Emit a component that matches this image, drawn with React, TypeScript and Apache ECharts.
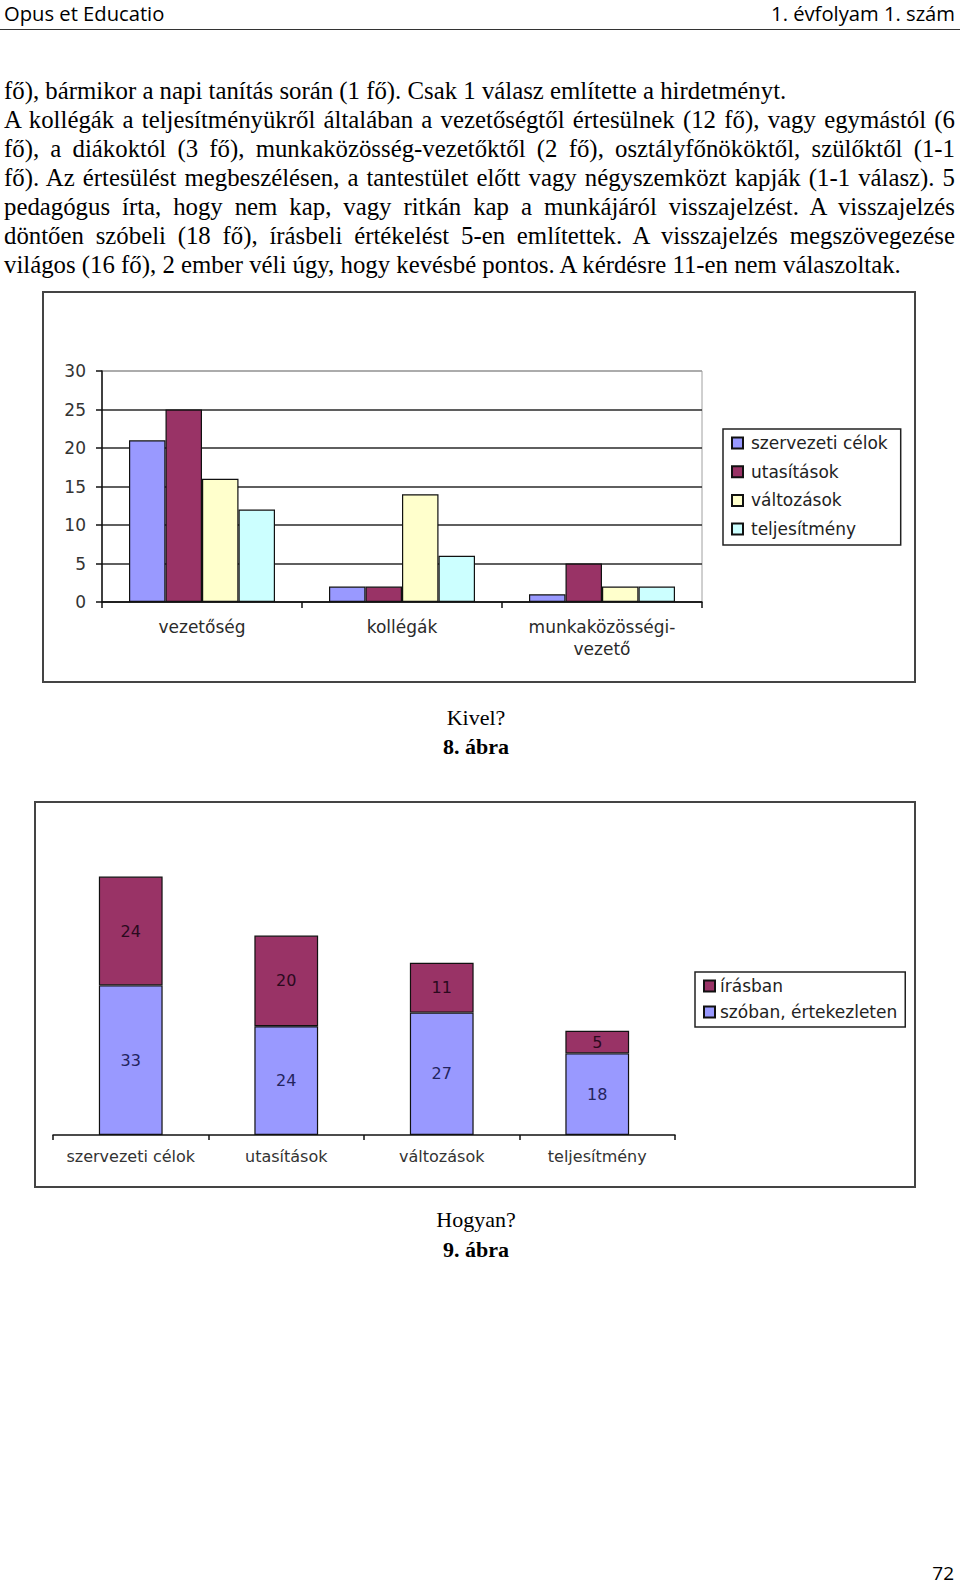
import React, { useEffect, useRef } from "react";
import * as echarts from "echarts";

// ---- Figure 8 data ("Kivel?") ----
const categories1 = ["vezetőség", "kollégák", "munkaközösségi-vezető"];
const seriesNames1 = ["szervezeti célok", "utasítások", "változások", "teljesítmény"];
const szervezetiCelok1 = [21, 2, 1];
const utasitasok1 = [25, 2, 5];
const valtozasok1 = [16, 14, 2];
const teljesitmeny1 = [12, 6, 2];
const colors1 = ["#9999FF", "#993366", "#FFFFCC", "#CCFFFF"];
const yMin1 = 0;
const yMax1 = 30;
const yStep1 = 5;

// ---- Figure 9 data ("Hogyan?") ----
const categories2 = ["szervezeti célok", "utasítások", "változások", "teljesítmény"];
const szobanErtekezleten = [33, 24, 27, 18];
const irasban = [24, 20, 11, 5];
const legend2 = ["írásban", "szóban, értekezleten"];

// ---- Page text ----
const headerLeft = "Opus et Educatio";
const headerRight = "1. évfolyam 1. szám";
const bodyLines = [
  "fő), bármikor a napi tanítás során (1 fő). Csak 1 válasz említette a hirdetményt.",
  "A kollégák a teljesítményükről általában a vezetőségtől értesülnek (12 fő), vagy egymástól (6",
  "fő), a diákoktól (3 fő), munkaközösség-vezetőktől (2 fő), osztályfőnököktől, szülőktől (1-1",
  "fő). Az értesülést megbeszélésen, a tantestület előtt vagy négyszemközt kapják (1-1 válasz). 5",
  "pedagógus írta, hogy nem kap, vagy ritkán kap a munkájáról visszajelzést. A visszajelzés",
  "döntően szóbeli (18 fő), írásbeli értékelést 5-en említettek. A visszajelzés megszövegezése",
  "világos (16 fő), 2 ember véli úgy, hogy kevésbé pontos. A kérdésre 11-en nem válaszoltak.",
];
const justified = [false, true, true, true, true, true, false];
const caption1 = "Kivel?";
const figLabel1 = "8. ábra";
const caption2 = "Hogyan?";
const figLabel2 = "9. ábra";
const pageNumber = "72";

const SERIF = "'Liberation Serif', 'Times New Roman', serif";
const SANS = "'Open Sans', 'Noto Sans', sans-serif";
const CHART_FONT = "'DejaVu Sans', sans-serif";

// top for a serif line whose baseline is at `baseline`
function serifTop(baseline: number, fs: number, lh: number) {
  return baseline - ((lh - 1.107 * fs) / 2 + 0.891 * fs);
}
// top for an Open Sans line whose baseline is at `baseline`
function sansTop(baseline: number, fs: number, lh: number) {
  return baseline - ((lh - 1.362 * fs) / 2 + 1.069 * fs);
}

function buildOption1() {
  const data = [szervezetiCelok1, utasitasok1, valtozasok1, teljesitmeny1];
  const splitColors: string[] = [];
  for (let v = yMin1; v <= yMax1; v += yStep1) splitColors.push(v === yMax1 ? "#a0a0a0" : "#2a2a2a");
  return {
    animation: false,
    textStyle: { fontFamily: CHART_FONT },
    graphic: [
      {
        type: "rect",
        silent: true,
        shape: { x: 43, y: 12, width: 872, height: 390 },
        style: { fill: "none", stroke: "#444", lineWidth: 2 },
      },
    ],
    grid: {
      left: 102,
      right: 258,
      top: 91,
      bottom: 88,
      show: true,
      borderColor: "#a0a0a0",
      borderWidth: 1,
      backgroundColor: "transparent",
    },
    legend: {
      orient: "vertical",
      left: 723,
      top: 149,
      padding: [4, 13, 6, 8],
      itemWidth: 11,
      itemHeight: 11,
      itemGap: 8.7,
      icon: "rect",
      borderColor: "#222",
      borderWidth: 1.5,
      data: seriesNames1,
      textStyle: {
        fontFamily: CHART_FONT,
        fontSize: 17,
        color: "#222",
        lineHeight: 20,
        padding: [0, 0, 0, 3],
      },
    },
    xAxis: {
      type: "category",
      data: categories1,
      axisLine: { lineStyle: { color: "#111", width: 1.5 } },
      axisTick: { show: true, length: 6, lineStyle: { color: "#111", width: 1.5 } },
      axisLabel: {
        interval: 0,
        margin: 14,
        fontSize: 17,
        color: "#2a2a2a",
        lineHeight: 22,
        fontFamily: CHART_FONT,
        formatter: (v: string) => v.replace("-", "-\n"),
      },
    },
    yAxis: {
      type: "value",
      min: yMin1,
      max: yMax1,
      interval: yStep1,
      axisLine: { show: true, lineStyle: { color: "#111", width: 1.5 } },
      axisTick: { show: true, length: 6, lineStyle: { color: "#111", width: 1.5 } },
      axisLabel: { margin: 16, fontSize: 17, color: "#333", fontFamily: CHART_FONT },
      splitLine: { show: true, lineStyle: { color: splitColors, width: 1.5 } },
    },
    series: seriesNames1.map((name, i) => ({
      name,
      type: "bar",
      data: data[i],
      barGap: "0%",
      barCategoryGap: "27%",
      itemStyle: { color: colors1[i], borderColor: "#111", borderWidth: 1.2 },
    })),
  };
}

function buildOption2() {
  return {
    animation: false,
    textStyle: { fontFamily: CHART_FONT },
    graphic: [
      {
        type: "rect",
        silent: true,
        shape: { x: 35, y: 12, width: 880, height: 385 },
        style: { fill: "none", stroke: "#444", lineWidth: 2 },
      },
    ],
    grid: { left: 53, right: 285, top: 73, bottom: 65 },
    legend: {
      orient: "vertical",
      left: 695,
      top: 182,
      padding: [5, 8, 6, 8],
      itemWidth: 11,
      itemHeight: 11,
      itemGap: 8,
      icon: "rect",
      borderColor: "#222",
      borderWidth: 1.5,
      data: legend2,
      textStyle: { fontFamily: CHART_FONT, fontSize: 17, color: "#222", lineHeight: 18 },
    },
    xAxis: {
      type: "category",
      data: categories2,
      axisLine: { lineStyle: { color: "#111", width: 1.5 } },
      axisTick: { show: true, length: 5, lineStyle: { color: "#111", width: 1.5 } },
      axisLabel: { interval: 0, margin: 13, fontSize: 16, color: "#333", fontFamily: CHART_FONT },
    },
    yAxis: { type: "value", min: 0, max: 60, show: false, splitLine: { show: false } },
    series: [
      {
        name: "szóban, értekezleten",
        type: "bar",
        stack: "total",
        data: szobanErtekezleten,
        barCategoryGap: "59%",
        itemStyle: { color: "#9999FF", borderColor: "#111", borderWidth: 1.2 },
        label: { show: true, position: "inside", fontSize: 16, color: "#24245e", fontFamily: CHART_FONT },
      },
      {
        name: "írásban",
        type: "bar",
        stack: "total",
        data: irasban,
        barCategoryGap: "59%",
        itemStyle: { color: "#993366", borderColor: "#111", borderWidth: 1.2 },
        label: { show: true, position: "inside", fontSize: 16, color: "#2a0a1e", fontFamily: CHART_FONT },
      },
    ],
  };
}

export default function App() {
  const ref1 = useRef<HTMLDivElement>(null);
  const ref2 = useRef<HTMLDivElement>(null);

  useEffect(() => {
    const c1 = echarts.init(ref1.current!, undefined, { renderer: "svg" });
    c1.setOption(buildOption1() as any);
    const c2 = echarts.init(ref2.current!, undefined, { renderer: "svg" });
    c2.setOption(buildOption2() as any);
    return () => {
      c1.dispose();
      c2.dispose();
    };
  }, []);

  const bodyFs = 24.8;
  const bodyLh = 29.1;
  const capFs = 22;
  const capLh = 26;
  const headFs = 20.2;
  const headLh = 22;

  return (
    <div
      style={{
        position: "absolute",
        left: 0,
        top: 0,
        width: 960,
        height: 1585,
        overflow: "hidden",
        background: "#fff",
        color: "#000",
      }}
    >
      {/* header */}
      <div
        style={{
          position: "absolute",
          left: 4,
          top: sansTop(20.5, headFs, headLh),
          fontFamily: SANS,
          fontSize: headFs,
          lineHeight: `${headLh}px`,
          whiteSpace: "nowrap",
        }}
      >
        {headerLeft}
      </div>
      <div
        style={{
          position: "absolute",
          right: 5,
          top: sansTop(20.5, headFs, headLh),
          fontFamily: SANS,
          fontSize: headFs,
          lineHeight: `${headLh}px`,
          whiteSpace: "nowrap",
        }}
      >
        {headerRight}
      </div>
      <div
        style={{
          position: "absolute",
          left: 0,
          top: 28.5,
          width: 960,
          height: 0,
          borderTop: "1.5px solid #333",
        }}
      />

      {/* body text */}
      {bodyLines.map((line, i) => (
        <div
          key={i}
          style={{
            position: "absolute",
            left: 4,
            top: serifTop(98.5 + i * bodyLh, bodyFs, bodyLh),
            width: justified[i] ? 951 : undefined,
            fontFamily: SERIF,
            fontSize: bodyFs,
            lineHeight: `${bodyLh}px`,
            whiteSpace: "nowrap",
            textAlign: justified[i] ? "justify" : "left",
            textAlignLast: justified[i] ? "justify" : "left",
          }}
        >
          {line}
        </div>
      ))}

      {/* figure 8 */}
      <div
        ref={ref1}
        style={{ position: "absolute", left: 0, top: 280, width: 960, height: 410 }}
      />
      <div
        style={{
          position: "absolute",
          left: 0,
          width: 952,
          top: serifTop(725, capFs, capLh),
          textAlign: "center",
          fontFamily: SERIF,
          fontSize: capFs,
          lineHeight: `${capLh}px`,
        }}
      >
        {caption1}
      </div>
      <div
        style={{
          position: "absolute",
          left: 0,
          width: 952,
          top: serifTop(754, capFs, capLh),
          textAlign: "center",
          fontFamily: SERIF,
          fontSize: capFs,
          fontWeight: "bold",
          lineHeight: `${capLh}px`,
        }}
      >
        {figLabel1}
      </div>

      {/* figure 9 */}
      <div
        ref={ref2}
        style={{ position: "absolute", left: 0, top: 790, width: 960, height: 410 }}
      />
      <div
        style={{
          position: "absolute",
          left: 0,
          width: 952,
          top: serifTop(1227, capFs, capLh),
          textAlign: "center",
          fontFamily: SERIF,
          fontSize: capFs,
          lineHeight: `${capLh}px`,
        }}
      >
        {caption2}
      </div>
      <div
        style={{
          position: "absolute",
          left: 0,
          width: 952,
          top: serifTop(1257, capFs, capLh),
          textAlign: "center",
          fontFamily: SERIF,
          fontSize: capFs,
          fontWeight: "bold",
          lineHeight: `${capLh}px`,
        }}
      >
        {figLabel2}
      </div>

      {/* page number */}
      <div
        style={{
          position: "absolute",
          right: 6,
          top: sansTop(1580, 19, 22),
          fontFamily: SANS,
          fontSize: 19,
          lineHeight: "22px",
          whiteSpace: "nowrap",
        }}
      >
        {pageNumber}
      </div>
    </div>
  );
}
